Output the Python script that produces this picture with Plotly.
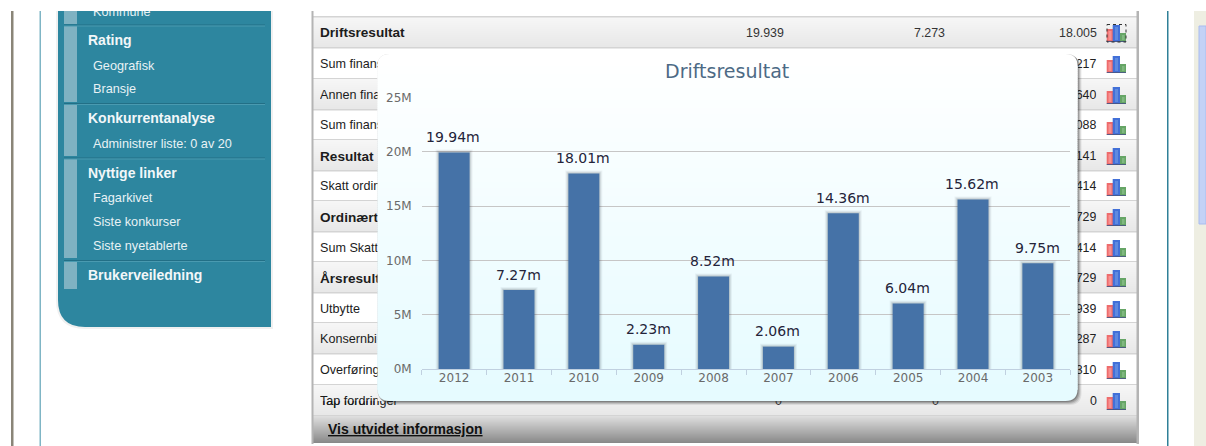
import plotly.graph_objects as go

W, H = 1206, 446

# chart data
years = ["2012", "2011", "2010", "2009", "2008", "2007", "2006", "2005", "2004", "2003"]
values = [19939000, 7273000, 18005000, 2230000, 8520000, 2060000, 14360000, 6040000, 15620000, 9750000]
labels = ["19.94m", "7.27m", "18.01m", "2.23m", "8.52m", "2.06m", "14.36m", "6.04m", "15.62m", "9.75m"]
y_ticks = [0, 5000000, 10000000, 15000000, 20000000, 25000000]
y_tick_labels = ["0M", "5M", "10M", "15M", "20M", "25M"]
title = "Driftsresultat"

# surrounding page content
menu_heads = [("Rating", 40), ("Konkurrentanalyse", 118), ("Nyttige linker", 173), ("Brukerveiledning", 275)]
menu_items = [("Geografisk", 65.5), ("Bransje", 89), ("Administrer liste: 0 av 20", 144), ("Fagarkivet", 198),
              ("Siste konkurser", 222), ("Siste nyetablerte", 246)]
menu_bands = [(11, 24), (26, 102), (105, 156), (159, 258), (261, 289)]
row_edges = [17, 48, 79, 110, 140, 171, 201, 232, 262, 293, 323, 354, 385, 416]
row_names = ["Driftsresultat", "Sum finans", "Annen finan", "Sum finans", "Resultat",
             "Skatt ordin", "Ordinært", "Sum Skatt", "Årsresult", "Utbytte", "Konsernbi",
             "Overføring", "Tap fordringer"]
row_bold = [True, False, False, False, True, False, True, False, True, False, False, False, False]
row_tail = ["18.005", "217", "640", "088", "141", "414", "729", "414", "729", "939", "287", "310", "0"]

shapes, notes = [], []


def rect(x0, y0, x1, y1, color, opacity=1, line=None):
    shapes.append(dict(type="rect", xref="paper", yref="paper", layer="below",
                       x0=x0 / W, x1=x1 / W, y0=1 - y0 / H, y1=1 - y1 / H, fillcolor=color, opacity=opacity,
                       line=line or dict(width=0)))


def mix(a, b, t):
    return "rgb(%d,%d,%d)" % tuple(round(a[i] + (b[i] - a[i]) * t) for i in range(3))


def gradient(x0, y0, x1, y1, a, b, step=1):
    y = y0
    while y < y1:
        rect(x0, y, x1, min(y + step + 0.4, y1), mix(a, b, (y - y0) / max(y1 - y0, 1)))
        y += step


def rounded(x0, y0, x1, y1, color, opacity=1, r=12, top=True, bottom=True):
    X = lambda v: v / W
    Y = lambda v: 1 - v / H
    rt = r if top else 0
    rb = r if bottom else 0
    d = f"M{X(x0 + rt)},{Y(y0)} L{X(x1 - rt)},{Y(y0)} Q{X(x1)},{Y(y0)} {X(x1)},{Y(y0 + rt)} "
    d += f"L{X(x1)},{Y(y1 - rb)} Q{X(x1)},{Y(y1)} {X(x1 - rb)},{Y(y1)} L{X(x0 + rb)},{Y(y1)} "
    d += f"Q{X(x0)},{Y(y1)} {X(x0)},{Y(y1 - rb)} L{X(x0)},{Y(y0 + rt)} Q{X(x0)},{Y(y0)} {X(x0 + rt)},{Y(y0)} Z"
    shapes.append(dict(type="path", xref="paper", yref="paper", layer="below", path=d, fillcolor=color,
                       opacity=opacity, line=dict(width=0)))


def text(x, y, s, size=12, color="#222", bold=False, anchor="left", box=None, family="Liberation Sans", yanchor="middle", underline=False, trail=False):
    if bold:
        s = f"<b>{s}</b>"
    if underline:
        s = f"<u>{s}</u>"
    if trail:
        s = s + "<br>\u00a0"
    n = dict(xref="paper", yref="paper", x=x / W, y=1 - y / H, text=s, showarrow=False, xanchor=anchor,
             yanchor=yanchor, align=anchor, valign="middle", borderpad=0, borderwidth=0,
             font=dict(family=family, size=size, color=color))
    if box:
        n["width"], n["height"] = box
    notes.append(n)


# page frame
rect(0, 0, W, H, "#ffffff")
rect(11, 11, 13.5, H, "#8a8578")
rect(39.5, 11, 41, H, "#7fb5c5")
rect(1167, 11, 1168.5, H, "#2f8098")
rect(1194, 11, W, H, "#eeeee2")
rect(1199, 26, W, 224, "#c3d2f6", line=dict(width=1, color="#a9bcef"))

# side menu
shapes.append(dict(type="path", xref="paper", yref="paper", layer="below",
                   path=f"M{56/W},{1-11/H} L{273/W},{1-11/H} L{273/W},{1-329/H} L{85/W},{1-329/H} Q{56/W},{1-329/H} {56/W},{1-300/H} Z",
                   fillcolor="#f0f0f0", line=dict(width=0)))
shapes.append(dict(type="path", xref="paper", yref="paper", layer="below",
                   path=f"M{58/W},{1-11/H} L{271/W},{1-11/H} L{271/W},{1-327/H} L{85/W},{1-327/H} Q{58/W},{1-327/H} {58/W},{1-300/H} Z",
                   fillcolor="#2d869f", line=dict(width=0)))
for a, b in menu_bands:
    rect(64, a, 77, b, "#7fb2c2")
for y in [24.5, 103, 157.5, 260]:
    rect(64, y, 265, y + 1, "#226f86")
    rect(64, y + 1, 265, y + 2, "#4a9ab0")

# table
for i in range(13):
    a, b = row_edges[i], row_edges[i + 1]
    if i % 2 == 0:
        gradient(313, a, 1137, b, (246, 246, 246), (230, 230, 230), 2)
    rect(313, b - 1, 1137, b + 0.6, "#d4d4d4")
rect(313, 16, 1137, 17.6, "#d4d4d4")
gradient(313, 416, 1137, 443, (222, 222, 222), (134, 134, 134))
rect(311.5, 11, 313.5, 444, "#b4b4b4")
rect(1136.5, 11, 1139, 444, "#b4b4b4")
for i in range(13):
    a = row_edges[i]
    rect(1106.7, a + 12, 1113.3, a + 24.5, "#ee6c6c")
    rect(1108.5, a + 14, 1111.5, a + 23, "#f89090")
    rect(1112.7, a + 8, 1120, a + 24.5, "#4270d8")
    rect(1115, a + 10, 1118, a + 23, "#5f8ae0")
    rect(1120, a + 16, 1126, a + 24.5, "#66a566")
    rect(1122, a + 18, 1124.5, a + 23, "#80b880")
    rect(1106.7, a + 24, 1126, a + 25, "#2a3a70", 0.75)
rect(1107, 24.5, 1126, 42, "rgba(0,0,0,0)", line=dict(width=1, color="#333", dash="dot"))

# chart card
for off, op in [(4, 0.08), (3, 0.12), (2, 0.16), (1, 0.2)]:
    rounded(377.5 + off - 1, 54 + off - 1, 1077.5 + off, 401 + off, "#000000", op)
rounded(377.5, 54, 1077.5, 120, "#ffffff", bottom=False)
rounded(377.5, 340, 1077.5, 401, "#e6fbff", top=False)
gradient(377.5, 66, 1077.5, 390, (254, 255, 255), (230, 251, 255), 2)

# menu text
text(93, 11, "Kommune", 12.6, "#e8f2f5", box=(120, 18.4), yanchor="top", trail=True)
for s, y in menu_heads:
    text(88, y, s, 14, "#f2f7f9", bold=True)
for s, y in menu_items:
    text(93, y, s, 12.7, "#e8f2f5")

# table text
for i, s in enumerate(row_names):
    y = (row_edges[i] + row_edges[i + 1]) / 2 + 0.5
    if i == 0:
        text(320, y, s, 13.6, "#1c1c1c", bold=True)
    elif i == 12:
        text(320, y - 0.5, s, 12.6, "#1c1c1c", box=(57.5, 16))
        text(320, 401, s, 12.6, "#1c1c1c", box=(90, 15.4), yanchor="top", trail=True)
    else:
        text(320, y, s, 13.6 if row_bold[i] else 12.6, "#1c1c1c", bold=row_bold[i], box=(57.5, 16))
    t = row_tail[i]
    if i == 0:
        text(1096.5, y, t, 12.4, "#333", anchor="right")
        text(783.5, y, "19.939", 12.4, "#333", anchor="right")
        text(944.5, y, "7.273", 12.4, "#333", anchor="right")
    elif i == 12:
        text(1096.5, y, t, 12.4, "#222", anchor="right")
    else:
        text(1096.5, y, t, 12.4, "#222", anchor="right", box=(18.5, 16))
text(782, 401, "0", 12.4, "#333", anchor="right", box=(8, 15.4), yanchor="top", trail=True)
text(939, 401, "0", 12.4, "#333", anchor="right", box=(8, 15.4), yanchor="top", trail=True)
text(327.5, 429, "Vis utvidet informasjon", 14, "#111", bold=True, underline=True)

# chart title and value labels
text(727.5, 70.5, title, 19, "#4d6a85", anchor="center", family="DejaVu Sans")
for i, (v, lab) in enumerate(zip(values, labels)):
    notes.append(dict(xref="x", yref="y", x=i, y=v, text=lab, showarrow=False, xanchor="center", yanchor="bottom",
                      yshift=6.5, xshift=-0.7, borderpad=0, font=dict(family="DejaVu Sans", size=14, color="#24243a")))

fig = go.Figure()
for w, a in [(6, 0.05), (4, 0.08), (2, 0.12)]:
    fig.add_trace(go.Bar(x=years, y=values, width=0.478, marker=dict(color="rgba(0,0,0,0)", line=dict(width=w, color=f"rgba(30,40,50,{a})")),
                         hoverinfo="skip", showlegend=False))
fig.add_trace(go.Bar(x=years, y=values, width=0.478, marker=dict(color="#4572a7", line=dict(width=0)), showlegend=False))

fig.update_layout(
    width=W, height=H, margin=dict(l=0, r=0, t=0, b=0, autoexpand=False), autosize=False, barmode="overlay",
    paper_bgcolor="#ffffff", plot_bgcolor="rgba(0,0,0,0)", shapes=shapes, annotations=notes,
    font=dict(family="DejaVu Sans", size=12, color="#666"),
    xaxis=dict(domain=[421.7 / W, 1070.3 / W], type="category", categoryorder="array", categoryarray=years,
               range=[-0.5, 9.5], tickangle=0, ticklabelstandoff=-2,
               tickson="boundaries", ticks="outside", ticklen=5, tickcolor="#c0d0e0", tickwidth=1,
               showline=True, linecolor="#c0d0e0", linewidth=1, showgrid=False, zeroline=False,
               tickfont=dict(family="DejaVu Sans", size=12, color="#6a6a6a")),
    yaxis=dict(domain=[(H - 369) / H, (H - 97.7) / H], range=[0, 25000000], tickmode="array", tickvals=y_ticks,
               ticktext=y_tick_labels, showgrid=True, gridcolor="#c6c6c6", gridwidth=1.4, zeroline=False,
               showline=False, ticks="", ticklabelstandoff=9,
               tickfont=dict(family="DejaVu Sans", size=12, color="#6a6a6a")),
)
fig.write_html("out.html", config={"responsive": False, "displayModeBar": False},
               post_script="document.body.style.margin='0';document.body.style.overflow='hidden';")
